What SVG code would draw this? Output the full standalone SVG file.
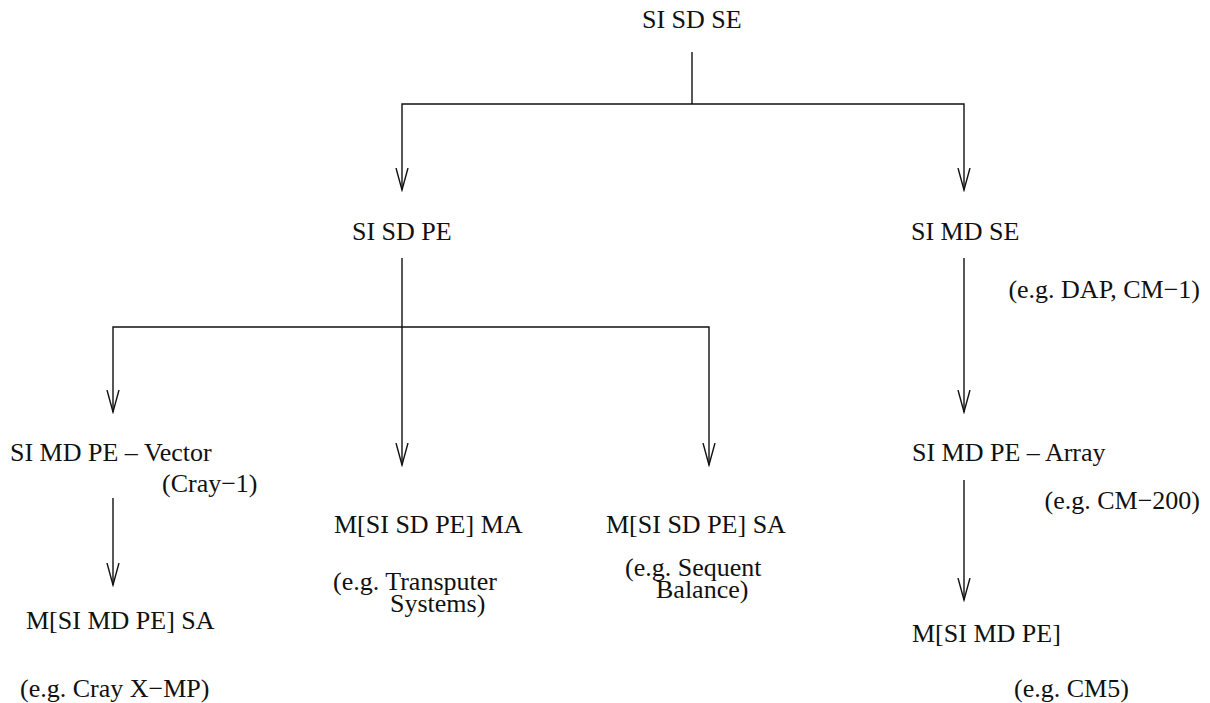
<svg xmlns="http://www.w3.org/2000/svg" width="1210" height="703" viewBox="0 0 1210 703">
<style>
text{font-family:"Liberation Serif","Times New Roman",serif;font-size:26px;fill:#111}
.c{stroke:#111;stroke-width:1.4;fill:none}
</style>
<defs>
<marker id="v" viewBox="0 0 24 14" markerWidth="24" markerHeight="14" refX="22" refY="7" orient="auto" markerUnits="userSpaceOnUse">
<path d="M0,1 L22,7 L0,13" fill="none" stroke="#111" stroke-width="1.4"/>
</marker>
</defs>
<rect width="1210" height="703" fill="#fff"/>
<g id="connectors" class="c">
<path d="M692,52 V104"/>
<path d="M692,104 H402 V190" marker-end="url(#v)"/>
<path d="M692,104 H964 V190" marker-end="url(#v)"/>
<path d="M402,258 V465" marker-end="url(#v)"/>
<path d="M402,327 H113 V412" marker-end="url(#v)"/>
<path d="M402,327 H709 V465" marker-end="url(#v)"/>
<path d="M964,258 V412" marker-end="url(#v)"/>
<path d="M113,498 V585" marker-end="url(#v)"/>
<path d="M964,480 V600" marker-end="url(#v)"/>
</g>
<g id="n-sisdse"><text x="642" y="28">SI SD SE</text></g>
<g id="n-sisdpe"><text x="352" y="240">SI SD PE</text></g>
<g id="n-simdse"><text x="911" y="240">SI MD SE</text><text x="1200" y="298" text-anchor="end">(e.g. DAP, CM−1)</text></g>
<g id="n-vector"><text x="10" y="461">SI MD PE – Vector</text><text x="162" y="492">(Cray−1)</text></g>
<g id="n-msimdpesa"><text x="26" y="629">M[SI MD PE] SA</text><text x="20" y="697">(e.g. Cray X−MP)</text></g>
<g id="n-ma"><text x="334" y="533">M[SI SD PE] MA</text><text x="333" y="590">(e.g. Transputer<tspan x="390" dy="22">Systems)</tspan></text></g>
<g id="n-sa"><text x="606" y="533">M[SI SD PE] SA</text><text x="625" y="576">(e.g. Sequent<tspan x="656" dy="22">Balance)</tspan></text></g>
<g id="n-array"><text x="912" y="461">SI MD PE – Array</text><text x="1200" y="509" text-anchor="end">(e.g. CM−200)</text></g>
<g id="n-msimdpe"><text x="912" y="642">M[SI MD PE]</text><text x="1014" y="697">(e.g. CM5)</text></g>
</svg>
